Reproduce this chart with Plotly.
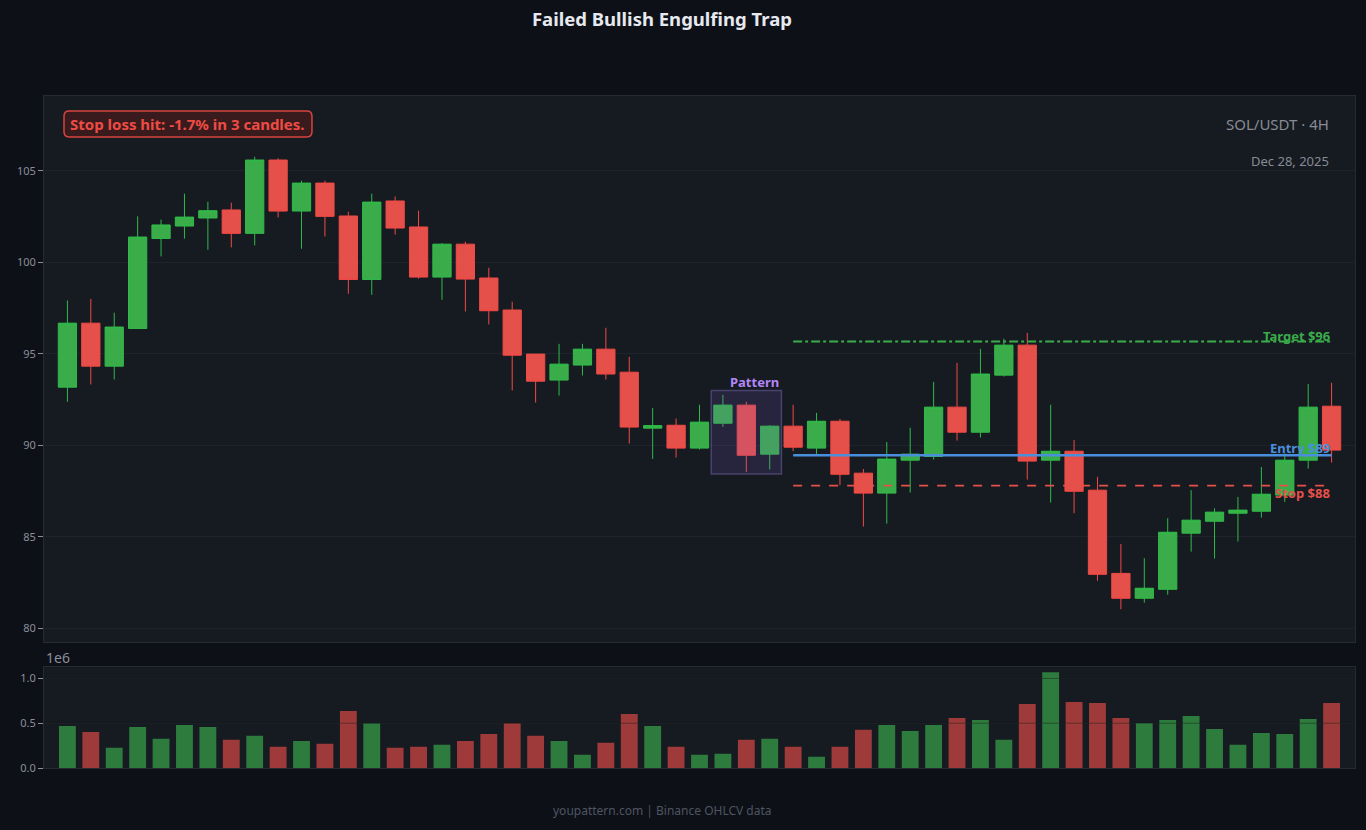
import plotly.graph_objects as go
from plotly.subplots import make_subplots

# ---------------- data ----------------
idx = list(range(55))
opens = [93.18, 96.68, 94.33, 96.39, 101.31, 101.99, 102.43, 102.87, 101.59, 105.60,
         102.81, 104.34, 102.54, 99.07, 103.36, 101.94, 99.20, 101.00, 99.15, 97.40,
         94.99, 93.57, 94.39, 95.26, 94.00, 90.94, 91.10, 89.85, 91.21, 92.20,
         89.52, 91.05, 89.85, 91.32, 88.48, 87.39, 89.19, 89.39, 92.09, 90.72,
         93.84, 95.48, 89.19, 89.68, 87.55, 83.00, 81.64, 82.13, 85.20, 85.85,
         86.29, 86.40, 87.28, 89.19, 92.14]
closes = [96.68, 94.33, 96.47, 101.39, 102.05, 102.48, 102.83, 101.59, 105.60, 102.81,
          104.34, 102.52, 99.07, 103.30, 101.88, 99.20, 101.00, 99.09, 97.36, 94.93,
          93.51, 94.44, 95.26, 93.90, 91.00, 91.08, 89.85, 91.27, 92.20, 89.46,
          91.05, 89.90, 91.32, 88.42, 87.39, 89.25, 89.52, 92.09, 90.72, 93.90,
          95.48, 89.14, 89.68, 87.49, 82.95, 81.64, 82.19, 85.25, 85.91, 86.35,
          86.46, 87.33, 89.19, 92.09, 89.74]
highs = [97.92, 98.01, 97.25, 102.52, 102.34, 103.76, 103.32, 103.27, 105.78, 105.70,
         104.47, 104.47, 102.77, 103.76, 103.61, 102.83, 101.05, 101.13, 99.71, 97.85,
         94.99, 95.55, 95.55, 96.43, 94.84, 92.05, 91.47, 92.22, 92.76, 92.38,
         91.10, 92.22, 91.78, 91.45, 88.71, 90.19, 90.96, 93.47, 94.51, 95.28,
         95.83, 96.15, 92.22, 90.30, 88.28, 84.61, 83.83, 86.02, 87.55, 86.56,
         87.18, 88.82, 89.57, 93.36, 93.42]
lows = [92.38, 93.33, 93.60, 96.39, 100.33, 101.30, 100.69, 100.82, 100.93, 102.46,
        100.75, 101.42, 98.29, 98.23, 101.52, 99.11, 97.96, 97.32, 96.61, 93.00,
        92.34, 92.72, 93.82, 93.60, 90.10, 89.26, 89.33, 89.77, 91.01, 88.55,
        88.68, 89.68, 89.52, 87.82, 85.56, 85.72, 87.42, 89.22, 90.26, 90.43,
        93.76, 88.13, 86.87, 86.29, 82.60, 81.04, 81.40, 81.84, 84.19, 83.81,
        84.74, 86.05, 86.91, 88.73, 89.06]
volumes = [0.470, 0.403, 0.225, 0.459, 0.326, 0.481, 0.459, 0.315, 0.359, 0.237,
           0.303, 0.270, 0.637, 0.500, 0.225, 0.237, 0.259, 0.303, 0.381, 0.500,
           0.359, 0.303, 0.148, 0.281, 0.603, 0.470, 0.237, 0.148, 0.159, 0.315,
           0.326, 0.237, 0.126, 0.237, 0.426, 0.481, 0.414, 0.481, 0.559, 0.537,
           0.315, 0.715, 1.070, 0.737, 0.726, 0.559, 0.503, 0.537, 0.581, 0.437,
           0.259, 0.392, 0.381, 0.548, 0.726]
volumes = [v * 1e6 for v in volumes]

entry_price = 89.46
stop_price = 87.80
target_price = 95.68
level_start, level_end = 31, 54
pattern_start, pattern_end = 28, 30
pattern_low, pattern_high = 88.44, 93.00

price_ticks = [80, 85, 90, 95, 100, 105]
vol_ticks = [0, 0.5e6, 1.0e6]
vol_ticktext = ["0.0", "0.5", "1.0"]

# ---------------- style ----------------
BG = "#0d1017"
PLOT_BG = "#161a21"
GRID = "#1f232b"
TICK = "#8a8f99"
GREEN = "#3aad4a"
GREEN_LINE = "#30bb48"
RED = "#e5504a"
RED_LINE = "#f04b45"
VOL_GREEN = "#2e7b3e"
VOL_RED = "#9e3b3a"
FONT = "Noto Sans"

fig = make_subplots(rows=2, cols=1, shared_xaxes=True, vertical_spacing=0.0375,
                    row_heights=[0.8125, 0.15])

fig.add_trace(go.Candlestick(
    x=idx, open=opens, high=highs, low=lows, close=closes,
    increasing=dict(fillcolor=GREEN, line=dict(color=GREEN_LINE, width=1)),
    decreasing=dict(fillcolor=RED, line=dict(color=RED_LINE, width=1)),
    whiskerwidth=0, showlegend=False, hoverinfo="skip"), row=1, col=1)

vol_colors = [VOL_GREEN if c >= o else VOL_RED for o, c in zip(opens, closes)]
fig.add_trace(go.Bar(x=idx, y=volumes, marker=dict(color=vol_colors, line=dict(width=0)),
                     width=0.72, showlegend=False, hoverinfo="skip"), row=2, col=1)

# level lines
fig.add_trace(go.Scatter(x=[level_start, level_end], y=[target_price, target_price], mode="lines",
                         line=dict(color="#3aad4a", width=2, dash="dashdot"),
                         showlegend=False, hoverinfo="skip"), row=1, col=1)
fig.add_trace(go.Scatter(x=[level_start, level_end], y=[entry_price, entry_price], mode="lines",
                         line=dict(color="#4a8fdc", width=2.5),
                         showlegend=False, hoverinfo="skip"), row=1, col=1)
fig.add_trace(go.Scatter(x=[level_start, level_end], y=[stop_price, stop_price], mode="lines",
                         line=dict(color="#e5504a", width=1.8, dash="dash"),
                         showlegend=False, hoverinfo="skip"), row=1, col=1)

# pattern box
fig.add_shape(type="rect", xref="x", yref="y",
              x0=pattern_start - 0.5, x1=pattern_end + 0.5, y0=pattern_low, y1=pattern_high,
              fillcolor="rgba(130,100,210,0.16)", line=dict(color="rgba(110,95,160,0.55)", width=1.5),
              layer="above")

# gridlines drawn over volume bars
for v in vol_ticks[1:]:
    fig.add_shape(type="line", xref="x2 domain", yref="y2", x0=0, x1=1, y0=v, y1=v,
                  line=dict(color="rgba(20,30,25,0.45)", width=1), layer="above")

# rounded box behind the result label (paper coordinates)
bx0, bx1, by0, by1 = 0.01526, 0.2044, 0.93899, 0.97768
rx, ry = 0.0040, 0.0078
path = (f"M {bx0+rx},{by1} L {bx1-rx},{by1} Q {bx1},{by1} {bx1},{by1-ry} "
        f"L {bx1},{by0+ry} Q {bx1},{by0} {bx1-rx},{by0} L {bx0+rx},{by0} "
        f"Q {bx0},{by0} {bx0},{by0+ry} L {bx0},{by1-ry} Q {bx0},{by1} {bx0+rx},{by1} Z")
fig.add_shape(type="path", xref="paper", yref="paper", path=path,
              fillcolor="#391b1d", line=dict(color="#d8443f", width=1.5), layer="above")

# labels
fig.add_annotation(x=pattern_end + 0.5, y=pattern_high, xref="x", yref="y", text="<b>Pattern</b>",
                   showarrow=False, xanchor="right", yanchor="bottom", yshift=-3,
                   font=dict(family=FONT, size=13, color="#b386f7"))
fig.add_annotation(x=level_end, y=target_price, xref="x", yref="y", text="<b>Target $96</b>",
                   showarrow=False, xanchor="right", yanchor="bottom", yshift=-6,
                   font=dict(family=FONT, size=13, color="#3aad4a"))
fig.add_annotation(x=level_end, y=entry_price, xref="x", yref="y", text="<b>Entry $89</b>",
                   showarrow=False, xanchor="right", yanchor="bottom", yshift=-4,
                   font=dict(family=FONT, size=13, color="#4a8fdc"))
fig.add_annotation(x=level_end, y=stop_price, xref="x", yref="y", text="<b>Stop $88</b>",
                   showarrow=False, xanchor="right", yanchor="top", yshift=4,
                   font=dict(family=FONT, size=13, color="#e5504a"))

fig.add_annotation(x=0.1098, y=0.9583, xref="paper", yref="paper",
                   text="<b>Stop loss hit: -1.7% in 3 candles.</b>", showarrow=False,
                   xanchor="center", yanchor="middle",
                   font=dict(family=FONT, size=15, color="#ef4b44"))
fig.add_annotation(x=0.9815, y=0.958, xref="paper", yref="paper", text="SOL/USDT · 4H",
                   showarrow=False, xanchor="right", yanchor="middle",
                   font=dict(family=FONT, size=15, color="#878b94"))
fig.add_annotation(x=0.9815, y=0.903, xref="paper", yref="paper", text="Dec 28, 2025",
                   showarrow=False, xanchor="right", yanchor="middle",
                   font=dict(family=FONT, size=13, color="#878b94"))
fig.add_annotation(x=0.0, y=0.165, xref="paper", yref="paper", text="1e6",
                   showarrow=False, xanchor="left", yanchor="middle",
                   font=dict(family=FONT, size=14, color="#8a8f99"))
fig.add_annotation(x=0.472, y=-0.0625, xref="paper", yref="paper",
                   text="youpattern.com | Binance OHLCV data",
                   showarrow=False, xanchor="center", yanchor="middle",
                   font=dict(family=FONT, size=12, color="#4f5561"))

axis_common = dict(showgrid=True, gridcolor=GRID, gridwidth=1, zeroline=False,
                   showline=True, linecolor="#252a33", mirror=True, linewidth=1)

fig.update_xaxes(range=[-1, 55], showticklabels=False, ticks="", rangeslider=dict(visible=False),
                 **axis_common)
fig.update_xaxes(showgrid=False)
fig.update_yaxes(row=1, col=1, range=[79.25, 109.1], tickvals=price_ticks,
                 ticks="outside", ticklen=5, tickcolor=TICK, tickwidth=1,
                 tickfont=dict(family=FONT, size=11, color=TICK), **axis_common)
fig.update_yaxes(row=2, col=1, range=[0, 1.126e6], tickvals=vol_ticks, ticktext=vol_ticktext,
                 ticks="outside", ticklen=5, tickcolor=TICK, tickwidth=1,
                 tickfont=dict(family=FONT, size=11, color=TICK), **axis_common)

fig.update_layout(
    width=1366, height=830,
    margin=dict(l=44, r=11, t=96, b=62),
    paper_bgcolor=BG, plot_bgcolor=PLOT_BG,
    boxgap=0.22, boxgroupgap=0,
    title=dict(text="<b>Failed Bullish Engulfing Trap</b>", x=0.4846, xanchor="center",
               y=0.977, yanchor="middle", font=dict(family=FONT, size=18.5, color="#e6e9ef")),
    font=dict(family=FONT, color=TICK),
)

fig.write_html("out.html")
